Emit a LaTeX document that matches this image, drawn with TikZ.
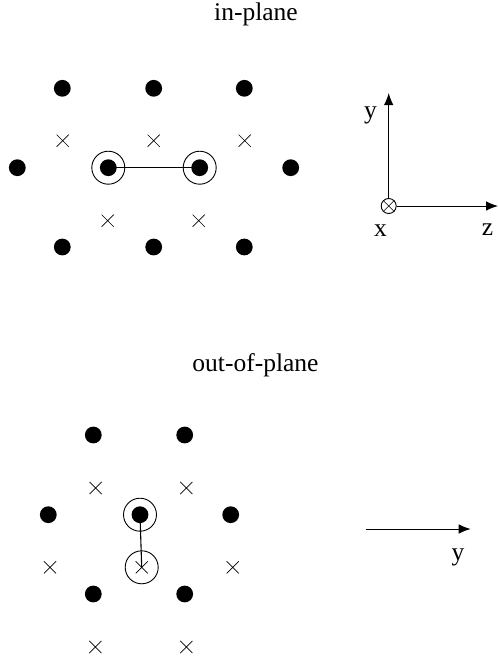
\documentclass[tikz,border=0pt]{standalone}
\usepackage{fontspec}
\setmainfont{Liberation Serif}
\usetikzlibrary{arrows.meta,shapes.misc}
\tikzset{
  dotmark/.style={circle,fill=black,draw=none,inner sep=0pt,minimum size=16.8pt},
  crossmark/.style={cross out,draw=black,line width=0.7pt,inner sep=0pt,minimum size=11.4pt},
  ringmark/.style={circle,draw=black,line width=0.9pt,inner sep=0pt,minimum size=33pt},
  bondline/.style={draw=black,line width=1.1pt},
  axisline/.style={draw=black,line width=1pt,-{Latex[length=12pt,width=9.5pt]}},
  originmark/.style={circle,draw=black,line width=0.9pt,fill=white,inner sep=0pt,minimum size=15pt},
  lbl/.style={font=\fontsize{25.5}{25.5}\selectfont,inner sep=0pt,text=black,anchor=base},
}
\begin{document}
\begin{tikzpicture}[x=1pt,y=-1pt]
\useasboundingbox (0,0) rectangle (498,662);
% titles
\node[lbl] (t1) at (256,20) {in-plane};
\node[lbl] (t2) at (255.5,371.7) {out-of-plane};
% in-plane lattice
\node[dotmark] (a1) at (62.3,88.3) {};
\node[dotmark] (a2) at (153.7,88.3) {};
\node[dotmark] (a3) at (244.3,88.3) {};
\node[dotmark] (a4) at (17.3,167.7) {};
\node[dotmark] (a5) at (108.3,167.7) {};
\node[dotmark] (a6) at (199.7,167.7) {};
\node[dotmark] (a7) at (290.7,167.7) {};
\node[dotmark] (a8) at (62.3,247) {};
\node[dotmark] (a9) at (153.7,247) {};
\node[dotmark] (a10) at (244.3,247) {};
\node[crossmark] (b1) at (62.7,140.7) {};
\node[crossmark] (b2) at (153.7,140.7) {};
\node[crossmark] (b3) at (244.7,140.7) {};
\node[crossmark] (b4) at (107.7,220.7) {};
\node[crossmark] (b5) at (198.7,220.7) {};
\node[ringmark] (r1) at (a5) {};
\node[ringmark] (r2) at (a6) {};
\draw[bondline] (a5.center) -- (a6.center);
% axes, upper
\node[originmark] (o) at (388.7,206) {};
\node[crossmark,minimum size=10.6pt,line width=0.6pt] (ox) at (o) {};
\coordinate (ytip) at (388.7,93);
\coordinate (ztip) at (498,206);
\draw[axisline] (o) -- (ytip);
\draw[axisline] (o) -- (ztip);
\node[lbl] (ly) at (370.5,118) {y};
\node[lbl] (lx) at (380.5,236.7) {x};
\node[lbl] (lz) at (487.5,235.7) {z};
% out-of-plane lattice
\node[dotmark] (c1) at (93.3,435) {};
\node[dotmark] (c2) at (184.7,435) {};
\node[dotmark] (c3) at (48.3,514.7) {};
\node[dotmark] (c4) at (140,514.7) {};
\node[dotmark] (c5) at (230.7,514.7) {};
\node[dotmark] (c6) at (93.3,594) {};
\node[dotmark] (c7) at (184.7,594) {};
\node[crossmark] (d1) at (95.7,488) {};
\node[crossmark] (d2) at (186.3,488) {};
\node[crossmark] (d3) at (50,567.3) {};
\node[crossmark] (d4) at (141.7,567.3) {};
\node[crossmark] (d5) at (232.7,567.3) {};
\node[crossmark] (d6) at (95.3,647) {};
\node[crossmark] (d7) at (186.3,647) {};
\node[ringmark] (r3) at (c4) {};
\node[ringmark] (r4) at (d4) {};
\draw[bondline] (c4.center) -- (d4.center);
% y arrow, lower
\coordinate (s) at (365.7,529);
\coordinate (e) at (470.7,529);
\draw[axisline] (s) -- (e);
\node[lbl] (ly2) at (458,560) {y};
\end{tikzpicture}
\end{document}
